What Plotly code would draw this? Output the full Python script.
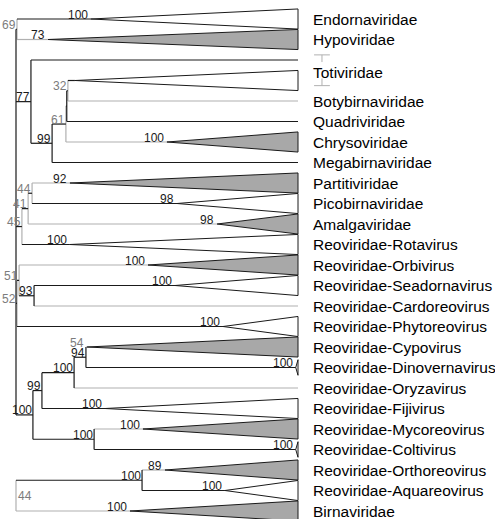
import plotly.graph_objects as go

# ---------------- data ----------------
taxa_labels = ["Endornaviridae", "Hypoviridae", "Totiviridae", "Botybirnaviridae",
               "Quadriviridae", "Chrysoviridae", "Megabirnaviridae", "Partitiviridae",
               "Picobirnaviridae", "Amalgaviridae", "Reoviridae-Rotavirus",
               "Reoviridae-Orbivirus", "Reoviridae-Seadornavirus", "Reoviridae-Cardoreovirus",
               "Reoviridae-Phytoreovirus", "Reoviridae-Cypovirus", "Reoviridae-Dinovernavirus",
               "Reoviridae-Oryzavirus", "Reoviridae-Fijivirus", "Reoviridae-Mycoreovirus",
               "Reoviridae-Coltivirus", "Reoviridae-Orthoreovirus", "Reoviridae-Aquareovirus",
               "Birnaviridae"]
taxa_rows = [0, 1, 2.6, 4, 5, 6, 7, 8, 9, 10, 11, 12, 13, 14, 15, 16, 17, 18, 19, 20,
             21, 22, 23, 24]
bracket_label = "Totiviridae"
bracket_rows = [2, 3]

# tips (collapsed clades or single lineages), in drawing order top->bottom
tip_ids = ["Endorna", "Hypo", "Toti_a", "Toti_b", "Botybirna", "Quadri", "Chryso",
           "Megabirna", "Partiti", "Picobirna", "Amalga", "Rota", "Orbi", "Seadorna",
           "Cardoreo", "Phyto", "Cypo", "Dinovern", "Oryza", "Fiji", "Myco", "Colti",
           "Ortho", "Aqua", "Birna"]
tip_parent = ["n69", "n69", "n77", "n32", "n32", "nq", "n61", "n99a", "n44a", "n44a",
              "n41", "n45", "n51", "n93", "n93", "n52", "n94", "n94", "n100b", "n99b",
              "n100c", "n100c", "n100d", "n100d", "n44b"]
tip_apex = [26.5, 11.3, None, 20.9, None, None, 53.5, None, 19.1, 57.1, 71.3, 19.1,
            46.8, 56.4, None, 73.4, 25.2, 99.2, None, 31.6, 45.0, 99.2, 52.8, 74.1, 40.4]
tip_support = ["100", "73", "", "", "", "", "100", "", "92", "98", "98", "100", "100",
               "100", "", "100", "54", "100", "", "100", "100", "100", "89", "100", "100"]

# internal nodes
node_ids = ["R", "n69", "n77", "n99a", "n61", "nq", "n32", "n45", "n41", "n44a", "n52",
            "n51", "n93", "n100a", "n99b", "n100b", "n94", "n100c", "n44b", "n100d"]
node_parent = [None, "R", "R", "n77", "n99a", "n61", "nq", "R", "n45", "n41", "R",
               "n52", "n51", "R", "n100a", "n99b", "n100b", "n100a", None, "n44b"]
node_depth = [0.0, 0.35, 5.3, 12.8, 17.7, 18.0, 18.4, 2.1, 4.3, 5.7, 0.35, 1.1, 6.4,
              6.0, 9.2, 20.6, 24.8, 27.7, 0.0, 44.7]
node_support = ["", "69", "77", "99", "61", "", "32", "45", "41", "44", "52", "51", "93",
                "100", "99", "100", "94", "100", "44", "100"]

# ---------------- style ----------------
BLACK = "#1a1a1a"
GRAY_LINE = "#b0b0b0"
GRAY_FILL = "#a8a8a8"
GRAY_TEXT = "#7c7c7c"
FONT = "Liberation Sans, Arial, sans-serif"
shaded_tips = {"Hypo", "Chryso", "Partiti", "Amalga", "Orbi", "Cypo", "Myco", "Ortho", "Birna"}
light_tips = {"Botybirna", "Cardoreo", "Oryza"}
TIP_DEPTH = 100.0
W, H = 495, 519
PX0, PX100 = 16.0, 298.0          # pixel of depth 0 / depth 100
ROW0, ROWSTEP = 19.0, 20.5        # pixel of row 0 / row spacing
scale = (PX100 - PX0) / 100.0
x_range = [-PX0 / scale, (W - PX0) / scale]
y_range = [(H - ROW0) / ROWSTEP, -ROW0 / ROWSTEP]
LABEL_X = 104.6

# ---------------- tree geometry ----------------
row_of = {t: i for i, t in enumerate(tip_ids)}
depth_of = dict(zip(node_ids, node_depth))
parent_of = dict(zip(node_ids, node_parent))
parent_of.update(dict(zip(tip_ids, tip_parent)))
children = {n: [] for n in node_ids}
for t, p in zip(tip_ids, tip_parent):
    children[p].append(t)
for n, p in zip(node_ids, node_parent):
    if p:
        children[p].append(n)


def row(k):
    if k in row_of:
        return row_of[k]
    rs = [row(c) for c in children[k]]
    return (min(rs) + max(rs)) / 2


def low(s):
    return s != "" and int(s) < 70


black_x, black_y, gray_x, gray_y = [], [], [], []


def seg(x0, y0, x1, y1, gray=False):
    xs, ys = (gray_x, gray_y) if gray else (black_x, black_y)
    xs += [x0, x1, None]
    ys += [y0, y1, None]


# internal nodes: vertical + stem
for n, p, d, s in zip(node_ids, node_parent, node_depth, node_support):
    rs = [row(c) for c in children[n]]
    seg(d, min(rs), d, max(rs), gray=low(s))
    if p:
        seg(depth_of[p], row(n), d, row(n))

# tips
white_tx, white_ty, gray_tx, gray_ty = [], [], [], []
for t, p, a, s in zip(tip_ids, tip_parent, tip_apex, tip_support):
    r = row_of[t]
    is_gray = t in shaded_tips or t in light_tips
    end = TIP_DEPTH if a is None else a
    seg(depth_of[p], r, end, r, gray=is_gray)
    if a is not None:
        half = 0.49 if a < 95 else 0.38
        xs = [a, TIP_DEPTH, TIP_DEPTH, a, None]
        ys = [r, r - half, r + half, r, None]
        if t in shaded_tips:
            gray_tx += xs
            gray_ty += ys
        else:
            white_tx += xs
            white_ty += ys

fig = go.Figure()
fig.add_trace(go.Scatter(x=white_tx, y=white_ty, mode="lines", fill="toself",
                         fillcolor="white", line=dict(color=BLACK, width=1),
                         hoverinfo="skip", showlegend=False))
fig.add_trace(go.Scatter(x=gray_tx, y=gray_ty, mode="lines", fill="toself",
                         fillcolor=GRAY_FILL, line=dict(color=BLACK, width=1),
                         hoverinfo="skip", showlegend=False))
fig.add_trace(go.Scatter(x=gray_x, y=gray_y, mode="lines",
                         line=dict(color=GRAY_LINE, width=1.2),
                         hoverinfo="skip", showlegend=False))
fig.add_trace(go.Scatter(x=black_x, y=black_y, mode="lines",
                         line=dict(color=BLACK, width=1.2),
                         hoverinfo="skip", showlegend=False))

# bracket marks for paraphyletic Totiviridae
bx0, bx1 = 105.7, 111.3
bxm = (bx0 + bx1) / 2
rt, rb = bracket_rows[0] - 0.25, bracket_rows[1] + 0.25
fig.add_trace(go.Scatter(x=[bx0, bx1, None, bxm, bxm, None, bx0, bx1, None, bxm, bxm],
                         y=[rt, rt, None, rt, rt + 0.35, None, rb, rb, None, rb, rb - 0.35],
                         mode="lines", line=dict(color=GRAY_LINE, width=1),
                         hoverinfo="skip", showlegend=False))

annotations = []
# support values at internal nodes
for n, d, s in zip(node_ids, node_depth, node_support):
    if not s:
        continue
    if d <= 0.0 and parent_of[n] is None:
        annotations.append(dict(x=d, y=row(n), text=s, xanchor="left", yanchor="middle",
                                xshift=0, showarrow=False,
                                font=dict(size=12, color=GRAY_TEXT if low(s) else BLACK,
                                          family=FONT)))
    else:
        annotations.append(dict(x=d, y=row(n), text=s, xanchor="right", yanchor="bottom",
                                yshift=-4.5, xshift=1, showarrow=False,
                                font=dict(size=12, color=GRAY_TEXT if low(s) else BLACK,
                                          family=FONT)))
# support values at collapsed clades
for t, a, s in zip(tip_ids, tip_apex, tip_support):
    if not s:
        continue
    annotations.append(dict(x=a, y=row_of[t], text=s, xanchor="right", yanchor="bottom",
                            yshift=-4.5, xshift=-1, showarrow=False,
                            font=dict(size=12, color=GRAY_TEXT if low(s) else BLACK,
                                      family=FONT)))
# taxon names
for name, r in zip(taxa_labels, taxa_rows):
    annotations.append(dict(x=LABEL_X, y=r, text=name, xanchor="left", yanchor="middle",
                            showarrow=False, font=dict(size=15.5, color="black",
                                                       family=FONT)))

fig.update_layout(
    width=W, height=H, margin=dict(l=0, r=0, t=0, b=0),
    paper_bgcolor="white", plot_bgcolor="white",
    xaxis=dict(range=x_range, visible=False, fixedrange=True),
    yaxis=dict(range=y_range, visible=False, fixedrange=True),
    annotations=annotations, showlegend=False,
)
fig.write_html("out.html", config={"displayModeBar": False},
               post_script="document.body.style.margin='0px';"
                           "document.body.style.overflow='hidden';")
